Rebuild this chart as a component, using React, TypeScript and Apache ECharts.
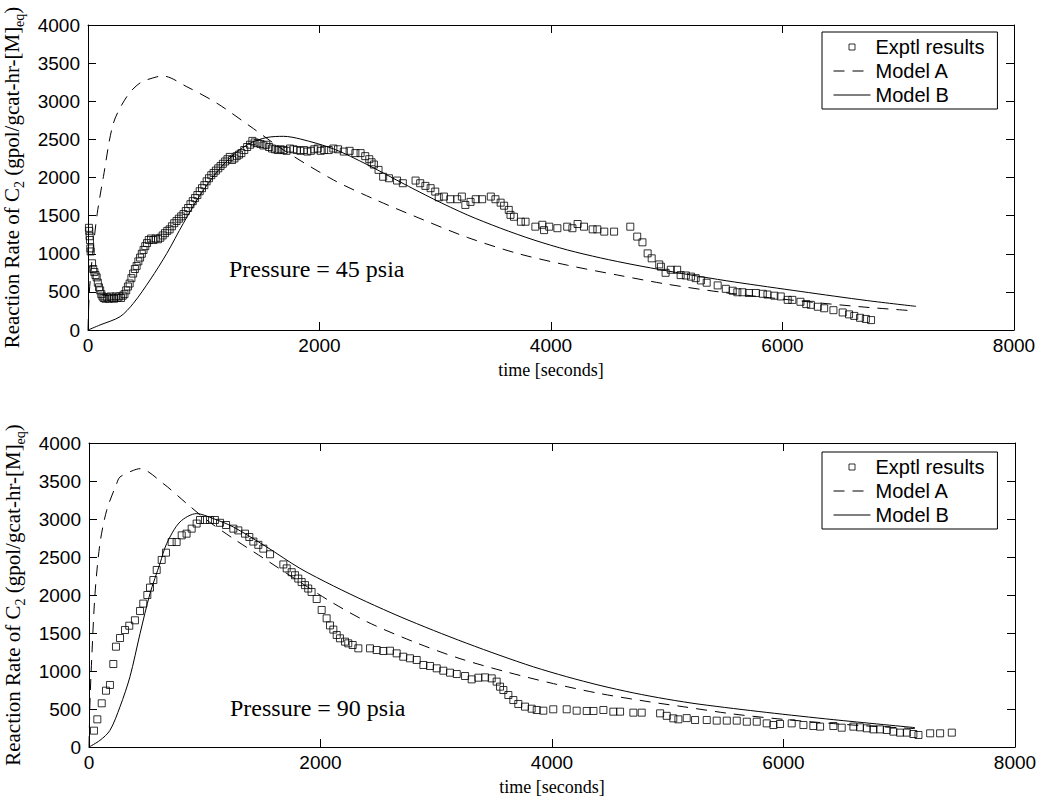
import React, { useEffect, useRef } from 'react';
import * as echarts from 'echarts';

// ---------- Data (45 psia) ----------
const exp45Time = [8, 11, 14, 17, 20, 23, 35, 45, 55, 65, 75, 85, 95, 105, 115, 125, 135, 150, 165, 180, 195, 210, 225, 240, 255, 270, 285, 300, 315, 330, 345, 360, 375, 390, 405, 420, 435, 450, 465, 480, 495, 510, 525, 545, 565, 585, 605, 625, 645, 665, 685, 705, 725, 745, 765, 785, 805, 825, 845, 865, 885, 905, 925, 945, 965, 985, 1005, 1025, 1045, 1065, 1085, 1105, 1125, 1145, 1165, 1185, 1205, 1225, 1245, 1265, 1285, 1305, 1325, 1350, 1375, 1400, 1420, 1440, 1465, 1490, 1515, 1540, 1565, 1590, 1615, 1640, 1665, 1690, 1715, 1745, 1775, 1805, 1835, 1865, 1895, 1925, 1955, 1985, 2010, 2040, 2080, 2120, 2160, 2210, 2260, 2310, 2355, 2395, 2430, 2450, 2470, 2510, 2550, 2600, 2670, 2720, 2830, 2870, 2915, 2960, 3000, 3030, 3075, 3130, 3190, 3230, 3260, 3305, 3350, 3405, 3480, 3520, 3565, 3595, 3635, 3650, 3680, 3740, 3780, 3865, 3925, 3940, 3985, 4055, 4140, 4185, 4230, 4285, 4360, 4400, 4460, 4545, 4685, 4745, 4790, 4835, 4870, 4935, 4950, 4990, 5035, 5090, 5120, 5165, 5210, 5250, 5295, 5345, 5440, 5510, 5570, 5610, 5655, 5710, 5770, 5830, 5870, 5930, 5985, 6045, 6085, 6155, 6205, 6245, 6305, 6360, 6440, 6520, 6575, 6620, 6670, 6720, 6765];
const exp45Rate = [1340, 1300, 1230, 1180, 1070, 1030, 875, 800, 760, 720, 690, 620, 560, 520, 470, 440, 420, 410, 430, 410, 440, 420, 410, 440, 420, 440, 420, 450, 470, 520, 570, 610, 680, 740, 800, 840, 900, 950, 1000, 1050, 1100, 1140, 1180, 1200, 1180, 1200, 1190, 1210, 1240, 1270, 1300, 1320, 1360, 1400, 1430, 1460, 1490, 1520, 1560, 1600, 1650, 1690, 1730, 1770, 1820, 1860, 1900, 1950, 1990, 2030, 2060, 2090, 2120, 2150, 2180, 2210, 2240, 2270, 2230, 2250, 2280, 2300, 2320, 2360, 2400, 2430, 2480, 2460, 2450, 2440, 2420, 2430, 2400, 2380, 2370, 2360, 2370, 2360, 2350, 2380, 2370, 2360, 2350, 2360, 2340, 2350, 2370, 2380, 2350, 2360, 2360, 2380, 2370, 2340, 2350, 2320, 2320, 2280, 2240, 2200, 2170, 2100, 2010, 1990, 1960, 1925, 1960, 1925, 1890, 1860, 1815, 1740, 1750, 1715, 1715, 1750, 1640, 1680, 1715, 1715, 1750, 1715, 1670, 1630, 1575, 1510, 1485, 1420, 1420, 1355, 1380, 1310, 1355, 1335, 1355, 1335, 1390, 1355, 1320, 1320, 1290, 1290, 1355, 1225, 1150, 1005, 940, 860, 830, 750, 790, 790, 720, 715, 700, 680, 650, 620, 585, 540, 515, 495, 495, 485, 485, 475, 465, 450, 440, 395, 395, 370, 340, 330, 305, 285, 260, 230, 205, 185, 160, 145, 130];

const modelA45Time = [0, 11, 40, 80, 133, 219, 335, 450, 594, 650, 854, 1113, 1430, 1690, 2122, 2497, 2900, 3276, 3709, 4141, 4574, 5006, 5500, 6000, 6420, 6750, 7130];
const modelA45Rate = [0, 485, 1000, 1530, 2010, 2710, 3060, 3240, 3320, 3330, 3190, 2975, 2640, 2360, 1967, 1700, 1443, 1215, 1005, 850, 721, 600, 490, 405, 340, 295, 252];

const modelB45Time = [0, 104, 277, 392, 536, 681, 824, 969, 1113, 1257, 1401, 1546, 1690, 1834, 2122, 2411, 2699, 2988, 3276, 3564, 3853, 4141, 4429, 4717, 5006, 5294, 5583, 6159, 6736, 7154];
const modelB45Rate = [0, 66, 175, 350, 656, 1005, 1400, 1770, 2070, 2300, 2450, 2525, 2540, 2505, 2375, 2170, 1940, 1715, 1510, 1335, 1180, 1050, 945, 855, 775, 700, 630, 505, 385, 310];

// ---------- Data (90 psia) ----------
const exp90Time = [43, 72, 110, 147, 181, 210, 233, 268, 311, 348, 397, 441, 469, 504, 527, 556, 585, 628, 665, 714, 757, 801, 843, 887, 930, 959, 1002, 1045, 1088, 1132, 1184, 1247, 1290, 1348, 1385, 1420, 1463, 1506, 1564, 1679, 1708, 1751, 1780, 1808, 1837, 1866, 1894, 1923, 1967, 2010, 2053, 2082, 2111, 2140, 2168, 2212, 2240, 2278, 2327, 2428, 2485, 2543, 2600, 2658, 2715, 2773, 2831, 2889, 2946, 3004, 3061, 3119, 3177, 3249, 3306, 3364, 3422, 3479, 3522, 3551, 3580, 3623, 3666, 3709, 3767, 3824, 3868, 3925, 4011, 4127, 4213, 4300, 4358, 4444, 4530, 4588, 4703, 4775, 4934, 4991, 5048, 5092, 5164, 5236, 5337, 5423, 5510, 5596, 5683, 5769, 5855, 5913, 5970, 6071, 6172, 6258, 6316, 6431, 6503, 6604, 6661, 6719, 6777, 6834, 6892, 6949, 7007, 7065, 7122, 7166, 7267, 7353, 7454];
const exp90Rate = [215, 364, 575, 741, 816, 1092, 1320, 1434, 1539, 1596, 1667, 1789, 1887, 2000, 2097, 2197, 2329, 2461, 2557, 2697, 2697, 2785, 2807, 2873, 2940, 2987, 2987, 2987, 2987, 2950, 2921, 2873, 2850, 2807, 2763, 2703, 2660, 2610, 2536, 2402, 2350, 2300, 2260, 2216, 2170, 2130, 2085, 2040, 1947, 1803, 1693, 1600, 1545, 1474, 1430, 1386, 1364, 1342, 1298, 1298, 1276, 1263, 1267, 1232, 1188, 1167, 1145, 1079, 1066, 1035, 1004, 978, 960, 934, 890, 912, 916, 903, 860, 794, 750, 684, 618, 566, 531, 504, 487, 478, 496, 496, 478, 474, 474, 487, 465, 465, 452, 452, 443, 410, 377, 364, 380, 355, 355, 347, 347, 347, 333, 333, 311, 289, 303, 311, 289, 276, 268, 276, 254, 268, 259, 246, 232, 232, 224, 202, 189, 189, 171, 158, 180, 180, 189];

const modelA90Time = [0, 9, 23, 52, 95, 153, 239, 268, 383, 441, 642, 844, 1017, 1247, 1535, 1823, 2080, 2399, 2802, 3205, 3609, 4012, 4415, 4847, 5134, 5566, 5998, 6430, 6718, 7136];
const modelA90Rate = [0, 618, 1145, 2018, 2680, 3115, 3466, 3553, 3640, 3662, 3466, 3203, 2987, 2742, 2457, 2170, 1920, 1650, 1386, 1163, 987, 834, 703, 593, 530, 434, 364, 308, 277, 242];

const modelB90Time = [0, 95, 181, 268, 354, 441, 527, 613, 671, 786, 930, 1074, 1247, 1535, 1823, 2111, 2399, 2687, 2975, 3263, 3551, 3839, 4127, 4415, 4703, 4991, 5279, 5855, 6430, 7136];
const modelB90Rate = [0, 88, 219, 530, 925, 1492, 2018, 2413, 2676, 2961, 3071, 3005, 2895, 2632, 2350, 2120, 1910, 1715, 1535, 1365, 1205, 1055, 925, 810, 712, 630, 562, 455, 360, 255];

const legendNames = ['Exptl results', 'Model A', 'Model B'];
const pressureLabels = ['Pressure = 45 psia', 'Pressure = 90 psia'];
const xAxisTitle = 'time [seconds]';

const zip = (a: number[], b: number[]) => a.map((v, i) => [v, b[i]]);

const sans = '"Liberation Sans", Arial, Helvetica, sans-serif';
const serif = '"Liberation Serif", "Times New Roman", serif';
const dash = [11, 8];

function buildOption() {
  const grids = [
    { left: 88, top: 25, width: 926, height: 305, outerBoundsMode: 'none', containLabel: false },
    { left: 89, top: 443, width: 926, height: 304, outerBoundsMode: 'none', containLabel: false },
  ];
  const lineCol = { color: '#000', width: 1 };
  const xAxes: any[] = [];
  const yAxes: any[] = [];
  grids.forEach((_, g) => {
    xAxes.push({
      type: 'value', gridIndex: g, min: 0, max: 8000, interval: 2000, position: 'bottom',
      axisLine: { show: true, onZero: false, lineStyle: lineCol },
      axisTick: { show: true, inside: true, length: 8, lineStyle: lineCol },
      axisLabel: { color: '#000', fontFamily: sans, fontSize: 19, margin: 6, formatter: (v: number) => String(v) },
      splitLine: { show: false },
      name: xAxisTitle, nameLocation: 'middle', nameGap: 31,
      nameTextStyle: { fontFamily: serif, fontSize: 18, color: '#000' },
    });
    xAxes.push({
      type: 'value', gridIndex: g, min: 0, max: 8000, interval: 2000, position: 'top',
      axisLine: { show: true, onZero: false, lineStyle: lineCol },
      axisTick: { show: true, inside: true, length: 8, lineStyle: lineCol },
      axisLabel: { show: false }, splitLine: { show: false },
    });
    yAxes.push({
      type: 'value', gridIndex: g, min: 0, max: 4000, interval: 500, position: 'left',
      axisLine: { show: true, onZero: false, lineStyle: lineCol },
      axisTick: { show: true, inside: true, length: 8, lineStyle: lineCol },
      axisLabel: { color: '#000', fontFamily: sans, fontSize: 19, margin: 8, formatter: (v: number) => String(v) },
      splitLine: { show: false },
      name: '{n|Reaction Rate of C}{s|2}{n| (gpol/gcat-hr-[M]}{s|eq}{n|)}',
      nameLocation: 'middle', nameGap: 52, nameRotate: 90,
      nameTextStyle: {
        color: '#000',
        rich: {
          n: { fontFamily: serif, fontSize: 21, lineHeight: 30, color: '#000' },
          s: { fontFamily: serif, fontSize: 14, lineHeight: 14, verticalAlign: 'bottom', color: '#000' },
        },
      },
    });
    yAxes.push({
      type: 'value', gridIndex: g, min: 0, max: 4000, interval: 500, position: 'right',
      axisLine: { show: true, onZero: false, lineStyle: lineCol },
      axisTick: { show: true, inside: true, length: 8, lineStyle: lineCol },
      axisLabel: { show: false }, splitLine: { show: false },
    });
  });

  const datasets = [
    { exp: zip(exp45Time, exp45Rate), a: zip(modelA45Time, modelA45Rate), b: zip(modelB45Time, modelB45Rate) },
    { exp: zip(exp90Time, exp90Rate), a: zip(modelA90Time, modelA90Rate), b: zip(modelB90Time, modelB90Rate) },
  ];
  const series: any[] = [];
  datasets.forEach((d, g) => {
    const xi = g * 2;
    const yi = g * 2;
    series.push({
      name: legendNames[1], type: 'line', xAxisIndex: xi, yAxisIndex: yi, data: d.a,
      symbol: 'none', smooth: 0.3,
      lineStyle: { color: '#000', width: 1, type: dash }, itemStyle: { color: '#000' }, z: 2,
    });
    series.push({
      name: legendNames[2], type: 'line', xAxisIndex: xi, yAxisIndex: yi, data: d.b,
      symbol: 'none', smooth: 0.3,
      lineStyle: { color: '#000', width: 1, type: 'solid' }, itemStyle: { color: '#000' }, z: 2,
    });
    series.push({
      name: legendNames[0], type: 'scatter', xAxisIndex: xi, yAxisIndex: yi, data: d.exp,
      symbol: 'rect', symbolSize: 7,
      itemStyle: { color: 'rgba(0,0,0,0)', borderColor: '#000', borderWidth: 1 }, z: 3,
    });
  });

  const legendData = [
    { name: legendNames[0], icon: 'path://M0,0L10,0L10,10L0,10Z', symbolKeepAspect: true, itemStyle: { color: 'rgba(0,0,0,0)', borderColor: '#000', borderWidth: 1 } },
    { name: legendNames[1], itemStyle: { color: 'rgba(0,0,0,0)', borderColor: 'rgba(0,0,0,0)', borderWidth: 0, opacity: 0 }, lineStyle: { width: 1, type: dash, color: '#000' } },
    { name: legendNames[2], itemStyle: { color: 'rgba(0,0,0,0)', borderColor: 'rgba(0,0,0,0)', borderWidth: 0, opacity: 0 }, lineStyle: { width: 1, type: 'solid', color: '#000' } },
  ];
  const legendBase = {
    orient: 'vertical', left: 822, data: legendData, selectedMode: false,
    itemWidth: 37, itemHeight: 6, itemGap: 2, itemTextGap: 11, symbolKeepAspect: true,
    padding: [4, 13, 3, 11], borderColor: '#000', borderWidth: 1, backgroundColor: '#fff',
    lineStyle: { width: 1 },
    textStyle: { fontFamily: sans, fontSize: 20, color: '#000', lineHeight: 22 },
    z: 10,
  };

  return {
    animation: false,
    backgroundColor: '#fff',
    grid: grids,
    xAxis: xAxes,
    yAxis: yAxes,
    legend: [
      { ...legendBase, top: 32 },
      { ...legendBase, top: 452 },
    ],
    series,
    graphic: [
      { type: 'text', left: 229, top: 257, style: { text: pressureLabels[0], fontFamily: serif, fontSize: 24, fill: '#000' } },
      { type: 'text', left: 230, top: 696, style: { text: pressureLabels[1], fontFamily: serif, fontSize: 24, fill: '#000' } },
    ],
  };
}

export default function App() {
  const ref = useRef<HTMLDivElement>(null);
  useEffect(() => {
    if (!ref.current) return;
    const chart = echarts.init(ref.current, null, { renderer: 'svg' });
    chart.setOption(buildOption() as any);
    return () => chart.dispose();
  }, []);
  return (
    <div
      ref={ref}
      style={{ position: 'absolute', left: 0, top: 0, width: 1044, height: 803, background: '#fff' }}
    />
  );
}
